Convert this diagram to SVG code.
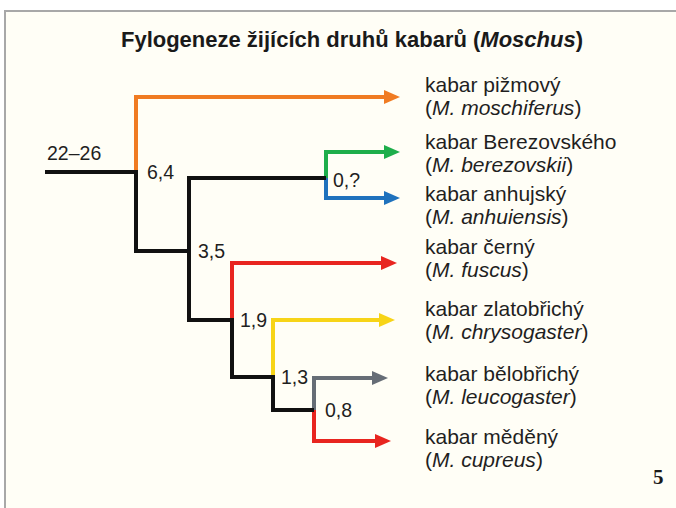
<svg xmlns="http://www.w3.org/2000/svg" width="676" height="508" viewBox="0 0 676 508">
<style>
.bg{fill:#fffef6}
.frame{fill:none;stroke:#a8a8a8;stroke-width:2}
.title{font-family:"Liberation Sans",Arial,sans-serif;font-weight:bold;font-size:22px;fill:#1a1a1a;text-anchor:middle}
.lbl{font-family:"Liberation Sans",Arial,sans-serif;font-size:21px;fill:#1f1f1f}
.num{font-family:"Liberation Sans",Arial,sans-serif;font-size:19.5px;fill:#1f1f1f}
.pg{font-family:"Liberation Serif","Times New Roman",serif;font-weight:bold;font-size:21px;fill:#1a1a1a}
.br{fill:none;stroke-width:4;stroke-linejoin:miter;stroke-linecap:butt}
.k{stroke:#111}
.o{stroke:#f07b22}
.g{stroke:#1eae4b}
.b{stroke:#1f72bd}
.r{stroke:#e8251f}
.y{stroke:#f7d417}
.s{stroke:#666d76}
</style>
<defs>
<marker id="ao" markerUnits="userSpaceOnUse" markerWidth="17" markerHeight="14" refX="1" refY="7" orient="auto"><path d="M0,0 L16,7 L0,14 z" fill="#f07b22"/></marker>
<marker id="ag" markerUnits="userSpaceOnUse" markerWidth="17" markerHeight="14" refX="1" refY="7" orient="auto"><path d="M0,0 L16,7 L0,14 z" fill="#1eae4b"/></marker>
<marker id="ab" markerUnits="userSpaceOnUse" markerWidth="17" markerHeight="14" refX="1" refY="7" orient="auto"><path d="M0,0 L16,7 L0,14 z" fill="#1f72bd"/></marker>
<marker id="ar" markerUnits="userSpaceOnUse" markerWidth="17" markerHeight="14" refX="1" refY="7" orient="auto"><path d="M0,0 L16,7 L0,14 z" fill="#e8251f"/></marker>
<marker id="ay" markerUnits="userSpaceOnUse" markerWidth="17" markerHeight="14" refX="1" refY="7" orient="auto"><path d="M0,0 L16,7 L0,14 z" fill="#f7d417"/></marker>
<marker id="as" markerUnits="userSpaceOnUse" markerWidth="17" markerHeight="14" refX="1" refY="7" orient="auto"><path d="M0,0 L16,7 L0,14 z" fill="#666d76"/></marker>
</defs>
<rect x="0" y="0" width="676" height="508" fill="#ffffff"/>
<rect class="bg" x="5" y="11" width="671" height="497"/>
<path class="frame" d="M5,508 V11 H676"/>
<text class="title" x="352" y="47">Fylogeneze žijících druhů kabarů (<tspan font-style="italic">Moschus</tspan>)</text>
<g id="connectors">
<path class="br o" d="M136,172 V97 H385" marker-end="url(#ao)"/>
<path class="br g" d="M326,178 V152 H385" marker-end="url(#ag)"/>
<path class="br b" d="M326,178 V198 H385" marker-end="url(#ab)"/>
<path class="br r" d="M232,320 V263 H382" marker-end="url(#ar)"/>
<path class="br y" d="M273,377 V320 H380" marker-end="url(#ay)"/>
<path class="br s" d="M314,410 V378 H373" marker-end="url(#as)"/>
<path class="br r" d="M314,410 V441 H376" marker-end="url(#ar)"/>
<path class="br k" d="M45,172 H136 V251 H189"/>
<path class="br k" d="M326,178 H189 V320 H232 V377 H273 V410 H314"/>
</g>
<g id="node-root"><text class="num" x="47" y="160">22–26</text></g>
<g id="node-64"><text class="num" x="147" y="179">6,4</text></g>
<g id="node-0q"><text class="num" x="333" y="187">0,?</text></g>
<g id="node-35"><text class="num" x="198" y="258">3,5</text></g>
<g id="node-19"><text class="num" x="240" y="327">1,9</text></g>
<g id="node-13"><text class="num" x="281" y="384">1,3</text></g>
<g id="node-08"><text class="num" x="325" y="417">0,8</text></g>
<g id="leaf-moschiferus"><text class="lbl" x="425" y="92">kabar pižmový</text><text class="lbl" x="425" y="115">(<tspan font-style="italic">M. moschiferus</tspan>)</text></g>
<g id="leaf-berezovskii"><text class="lbl" x="425" y="149">kabar Berezovského</text><text class="lbl" x="425" y="172">(<tspan font-style="italic">M. berezovskii</tspan>)</text></g>
<g id="leaf-anhuiensis"><text class="lbl" x="425" y="201">kabar anhujský</text><text class="lbl" x="425" y="224">(<tspan font-style="italic">M. anhuiensis</tspan>)</text></g>
<g id="leaf-fuscus"><text class="lbl" x="425" y="254">kabar černý</text><text class="lbl" x="425" y="277">(<tspan font-style="italic">M. fuscus</tspan>)</text></g>
<g id="leaf-chrysogaster"><text class="lbl" x="425" y="316">kabar zlatobřichý</text><text class="lbl" x="425" y="339">(<tspan font-style="italic">M. chrysogaster</tspan>)</text></g>
<g id="leaf-leucogaster"><text class="lbl" x="425" y="381">kabar bělobřichý</text><text class="lbl" x="425" y="404">(<tspan font-style="italic">M. leucogaster</tspan>)</text></g>
<g id="leaf-cupreus"><text class="lbl" x="425" y="444">kabar měděný</text><text class="lbl" x="425" y="467">(<tspan font-style="italic">M. cupreus</tspan>)</text></g>
<text class="pg" x="653" y="484">5</text>
</svg>
